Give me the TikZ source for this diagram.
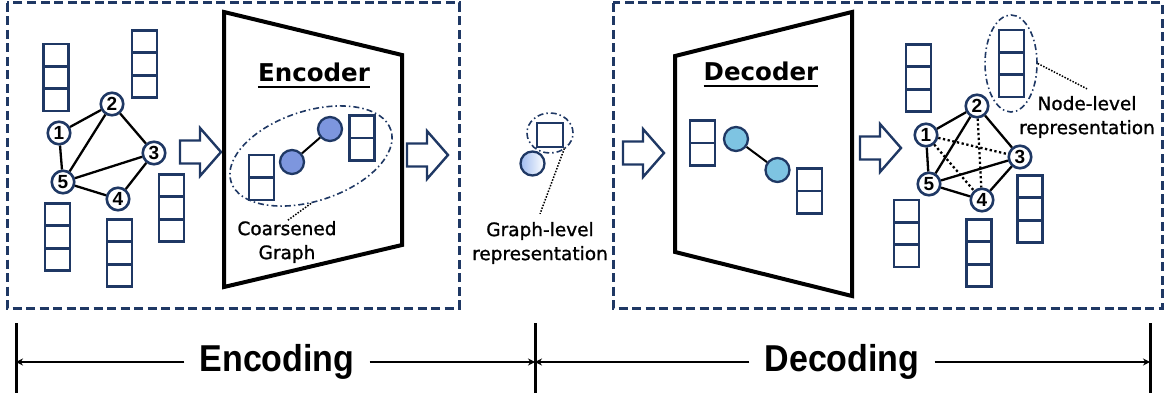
\documentclass[tikz,border=0pt]{standalone}
\usepackage{fontspec}
\setmainfont{DejaVu Sans}
\newfontfamily\arialf{Liberation Sans}
\newfontfamily\lblfont[FakeBold=1.2]{DejaVu Sans}
\usetikzlibrary{shapes.geometric,arrows.meta,calc}
\definecolor{dblue}{RGB}{31,56,100}
\definecolor{cgfill}{RGB}{125,150,222}
\definecolor{dcfill}{RGB}{126,196,226}
\definecolor{glfill}{RGB}{160,188,240}
\tikzset{
  dbox/.style={draw=dblue, line width=3pt, dash pattern=on 9pt off 4.5pt},
  stackbox/.style={draw=dblue, line width=2.8pt, fill=white, minimum width=25pt, inner sep=0pt},
  stackthree/.style={stackbox, minimum height=67pt, path picture={
     \draw[dblue,line width=2.8pt]
       ($(path picture bounding box.north west)!0.3333!(path picture bounding box.south west)$) --
       ($(path picture bounding box.north east)!0.3333!(path picture bounding box.south east)$);
     \draw[dblue,line width=2.8pt]
       ($(path picture bounding box.north west)!0.6667!(path picture bounding box.south west)$) --
       ($(path picture bounding box.north east)!0.6667!(path picture bounding box.south east)$);}},
  stacktwo/.style={stackbox, minimum height=45pt, path picture={
     \draw[dblue,line width=2.8pt] (path picture bounding box.west) -- (path picture bounding box.east);}},
  gnode/.style={circle, draw=dblue, line width=2.6pt, fill=white, minimum size=22.5pt, inner sep=0pt,
     font=\arialf\bfseries\fontsize{19}{19}\selectfont},
  gedge/.style={black, line width=2.3pt},
  gdot/.style={black, line width=2.3pt, dash pattern=on 2.3pt off 2.5pt},
  trap/.style={black, line width=4pt, line join=miter},
  title/.style={inner sep=0pt, font=\bfseries\fontsize{24.5}{28}\selectfont},
  lbl/.style={inner sep=0pt, align=center, font=\lblfont\fontsize{18.5}{24}\selectfont},
  dashdot/.style={draw=dblue, line width=1.6pt, dash pattern=on 6pt off 3pt on 1.5pt off 3pt},
  leader/.style={black, line width=1.5pt, dash pattern=on 1.5pt off 1.5pt},
  cgc/.style={circle, draw=dblue, line width=2.3pt, fill=cgfill, minimum size=24pt, inner sep=0pt},
  dcc/.style={circle, draw=dblue, line width=2.3pt, fill=dcfill, minimum size=24pt, inner sep=0pt},
  barline/.style={black, line width=3pt},
  tline/.style={black, line width=2pt, -{Stealth[length=7pt,width=7pt]}},
  bigtxt/.style={inner ysep=0pt, inner xsep=15pt, font=\arialf\bfseries\fontsize{34}{34}\selectfont},
  barrow/.pic={\draw[dblue, line width=2.4pt, fill=white, line join=miter]
     (0,-11.5) -- (20,-11.5) -- (20,-24) -- (41,0) -- (20,24) -- (20,11.5) -- (0,11.5) -- cycle;}
}
\begin{document}
\begin{tikzpicture}[x=1pt,y=-1pt]
\useasboundingbox (0,0) rectangle (1165,401);
% dashed boxes
\draw[dbox] (7,3) rectangle (459,308);
\draw[dbox] (613,3) rectangle (1162,308);

% ---------- left input graph ----------
\node[stackthree] (sA) at (56,77.5) {};
\node[stackthree] (sB) at (144.5,64) {};
\node[stackthree] (sC) at (171.5,208) {};
\node[stackthree] (sD) at (57.5,237) {};
\node[stackthree] (sE) at (119.5,253) {};
\node[gnode] (l1) at (59,133) {1};
\node[gnode] (l2) at (112,104) {2};
\node[gnode] (l3) at (154,153) {3};
\node[gnode] (l4) at (118,199) {4};
\node[gnode] (l5) at (63,182) {5};
\draw[gedge] (l1) -- (l2);
\draw[gedge] (l1) -- (l5);
\draw[gedge] (l2) -- (l5);
\draw[gedge] (l2) -- (l3);
\draw[gedge] (l3) -- (l5);
\draw[gedge] (l3) -- (l4);
\draw[gedge] (l4) -- (l5);

\pic at (180,152) {barrow};

% ---------- encoder ----------
\draw[trap] (224,12) -- (402,55) -- (402,245) -- (224,287) -- cycle;
\node[title, anchor=base] (enc) at (314,82) {Encoder};
\draw[line width=1.6pt] ([yshift=-5pt]enc.base west) -- ([yshift=-5pt]enc.base east);
\node[dashdot, ellipse, minimum width=168pt, minimum height=90pt, inner sep=0pt, rotate=18] (cg) at (311,156) {};
\node[stacktwo] (cs1) at (261.5,177.5) {};
\node[stacktwo] (cs2) at (362,138) {};
\node[cgc] (c1) at (292,162) {};
\node[cgc] (c2) at (330,129) {};
\draw[gedge, line width=2pt] (c1) -- (c2);
\node[lbl] (cgl) at (287,242) {Coarsened\\Graph};
\draw[leader] (cg.-108) -- (cgl.north);

\pic at (407,155) {barrow};

% ---------- graph-level representation ----------
\node[dashdot, ellipse, minimum width=46pt, minimum height=40pt, inner sep=0pt] (glr) at (550,133) {};
\node[stackbox, fill=none, minimum width=26pt, minimum height=24pt] (gsq) at (550,135) {};
\node[circle, draw=dblue, line width=2.3pt, minimum size=24pt, inner sep=0pt, left color=glfill, right color=white] (gc) at (532.5,163.5) {};
\node[lbl] (gll) at (540,243) {Graph-level\\representation};
\draw[leader] (gsq.south east) -- ([yshift=8pt]gll.north);

\pic at (623,153) {barrow};

% ---------- decoder ----------
\draw[trap] (675,56) -- (852,12) -- (852,296) -- (675,252) -- cycle;
\node[title, anchor=base] (dec) at (761,81) {Decoder};
\draw[line width=1.6pt] ([yshift=-5pt]dec.base west) -- ([yshift=-5pt]dec.base east);
\node[stacktwo] (ds1) at (702.5,143) {};
\node[stacktwo] (ds2) at (809.5,191) {};
\node[dcc] (d1) at (736,139) {};
\node[dcc] (d2) at (777.5,170) {};
\draw[gedge, line width=2pt] (d1) -- (d2);

\pic at (860,148) {barrow};

% ---------- reconstructed graph ----------
\node[stackthree] (sF) at (918.5,78) {};
\node[stackthree] (sG) at (1011.5,63.5) {};
\node[stackthree] (sH) at (1030,209) {};
\node[stackthree] (sI) at (906.5,233.5) {};
\node[stackthree] (sJ) at (979,253) {};
\node[dashdot, ellipse, minimum width=52pt, minimum height=97pt, inner sep=0pt] (nle) at (1011,63.5) {};
\node[gnode] (r1) at (926,135) {1};
\node[gnode] (r2) at (977,106) {2};
\node[gnode] (r3) at (1020,157) {3};
\node[gnode] (r4) at (982,200) {4};
\node[gnode] (r5) at (929,184) {5};
\draw[gedge] (r1) -- (r2);
\draw[gedge] (r1) -- (r5);
\draw[gedge] (r2) -- (r5);
\draw[gedge] (r2) -- (r3);
\draw[gedge] (r3) -- (r5);
\draw[gedge] (r3) -- (r4);
\draw[gedge] (r4) -- (r5);
\draw[gdot] (r1) -- (r3);
\draw[gdot] (r1) -- (r4);
\draw[gdot] (r2) -- (r4);
\node[lbl] (nll) at (1087,117) {Node-level\\representation};
\draw[leader] (nle.east) -- ([yshift=7pt]nll.north);

% ---------- bottom timeline ----------
\draw[barline] (16,323) -- (16,393);
\draw[barline] (535,323) -- (535,393);
\draw[barline] (1150,323) -- (1150,393);
\coordinate (bL) at (16,362);
\coordinate (bM) at (535,362);
\coordinate (bR) at (1150,362);
\node[bigtxt] (encl) at (277,362) {\scalebox{1}[1.1]{Encoding}};
\node[bigtxt] (decl) at (842,362) {\scalebox{1}[1.1]{Decoding}};
\draw[tline] (encl.west) -- (bL);
\draw[tline] (encl.east) -- (bM);
\draw[tline] (decl.west) -- (bM);
\draw[tline] (decl.east) -- (bR);
\end{tikzpicture}
\end{document}
